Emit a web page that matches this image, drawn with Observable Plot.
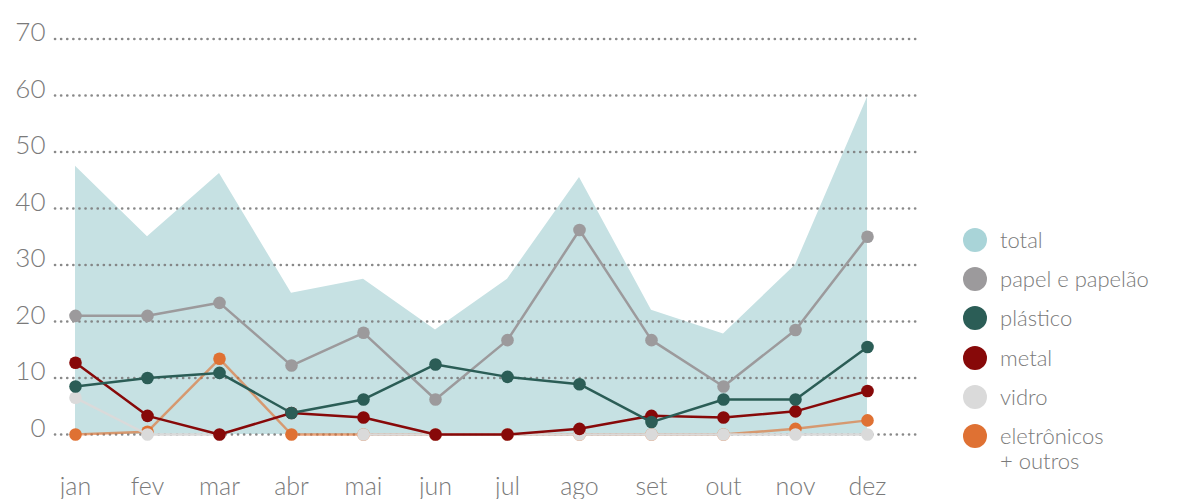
<!DOCTYPE html>
<html>
<head>
<meta charset="utf-8">
<script src="https://cdn.jsdelivr.net/npm/d3@7"></script>
<script src="https://cdn.jsdelivr.net/npm/@observablehq/plot@0.6"></script>
<style>
  html, body { margin: 0; padding: 0; background: #fff; }
  #wrap { position: relative; width: 1188px; height: 499px; overflow: hidden; }
  #legend { position: absolute; left: 963px; top: 220px; font-family: Lato, "Open Sans", sans-serif; font-weight: 300; font-size: 22px; color: #7a7a7a; }
  #legend .row { display: flex; align-items: center; height: 39.3px; }
  #legend .sw { width: 24px; height: 24px; border-radius: 50%; margin-right: 13px; flex: none; }
  #legend .lbl { line-height: 24px; }
  #legend .sub { padding-left: 37px; margin-top: -9px; }
</style>
</head>
<body>
<div id="wrap"><div id="chart"></div><div id="legend"></div></div>
<script>
// ---- data ----
const months = ["jan","fev","mar","abr","mai","jun","jul","ago","set","out","nov","dez"];
const total       = [47.5, 35, 46.2, 25, 27.5, 18.5, 27.5, 45.5, 22, 17.8, 30, 59.7];
const papel       = [21, 21, 23.3, 12.2, 18, 6.2, 16.7, 36.2, 16.7, 8.5, 18.5, 35];
const plastico    = [8.5, 10, 10.9, 3.8, 6.2, 12.4, 10.2, 8.9, 2.2, 6.2, 6.2, 15.5];
const metal       = [12.7, 3.3, 0, 3.8, 3, 0, 0, 1, 3.3, 3, 4.1, 7.7];
const vidro       = [6.5, 0, 0, null, 0, 0, 0, 0, 0, 0, 0, 0];
const eletronicos = [0, 0.5, 13.4, 0, 0, 0, 0, 0, 0, 0, 1, 2.5];
const yTicks = [0, 10, 20, 30, 40, 50, 60, 70];
const legendLabels = ["total", "papel e papelão", "plástico", "metal", "vidro", "eletrônicos\n+ outros"];

// ---- styles ----
const colors = {
  total: "#c6e1e3", totalLegend: "#a9d4d8",
  papel: "#9c9a9c", plastico: "#2b5d56", metal: "#870909",
  vidro: "#dadada", eletronicos: "#df7133"
};

const rows = arr => months.map((m, i) => ({month: m, value: arr[i]}));

function series(arr, color, lineOpacity = 1) {
  const d = rows(arr);
  return [
    Plot.lineY(d, {x: "month", y: "value", stroke: color, strokeWidth: 2.5, strokeOpacity: lineOpacity}),
    Plot.dot(d.filter(r => r.value != null), {x: "month", y: "value", fill: color, r: 6.3})
  ];
}

const chart = Plot.plot({
  width: 1188,
  height: 499,
  marginLeft: 55,
  marginRight: 270,
  marginTop: 33,
  marginBottom: 65,
  style: {fontFamily: "Lato, 'Open Sans', sans-serif", fontWeight: 300, background: "transparent"},
  x: {type: "point", domain: months, range: [73, 869], padding: 0},
  y: {type: "linear", domain: [0, 70], range: [434, 38.5]},
  marks: [
    Plot.areaY(rows(total), {x: "month", y: "value", fill: colors.total}),
    Plot.ruleY(yTicks, {stroke: "#7c7c7c", strokeWidth: 2.6, strokeDasharray: "0.1,6", strokeLinecap: "round", strokeOpacity: 0.9}),
    ...series(eletronicos, colors.eletronicos, 0.65),
    ...series(vidro, colors.vidro),
    ...series(metal, colors.metal),
    ...series(papel, colors.papel),
    ...series(plastico, colors.plastico),
    Plot.axisY(yTicks, {tickSize: 0, tickPadding: 10, fontSize: 26, fill: "#7a7a7a", dy: -6, label: null}),
    Plot.axisX(months, {tickSize: 0, tickPadding: 43, fontSize: 25, fill: "#7a7a7a", label: null})
  ]
});
document.getElementById("chart").appendChild(chart);

// ---- legend ----
const legendColors = [colors.totalLegend, colors.papel, colors.plastico, colors.metal, colors.vidro, colors.eletronicos];
const lg = document.getElementById("legend");
legendLabels.forEach((lab, i) => {
  const parts = lab.split("\n");
  const row = document.createElement("div");
  row.className = "row";
  row.innerHTML = `<div class="sw" style="background:${legendColors[i]}"></div><div class="lbl">${parts[0]}</div>`;
  lg.appendChild(row);
  if (parts[1]) {
    const sub = document.createElement("div");
    sub.className = "sub";
    sub.textContent = parts[1];
    lg.appendChild(sub);
  }
});
</script>
</body>
</html>
